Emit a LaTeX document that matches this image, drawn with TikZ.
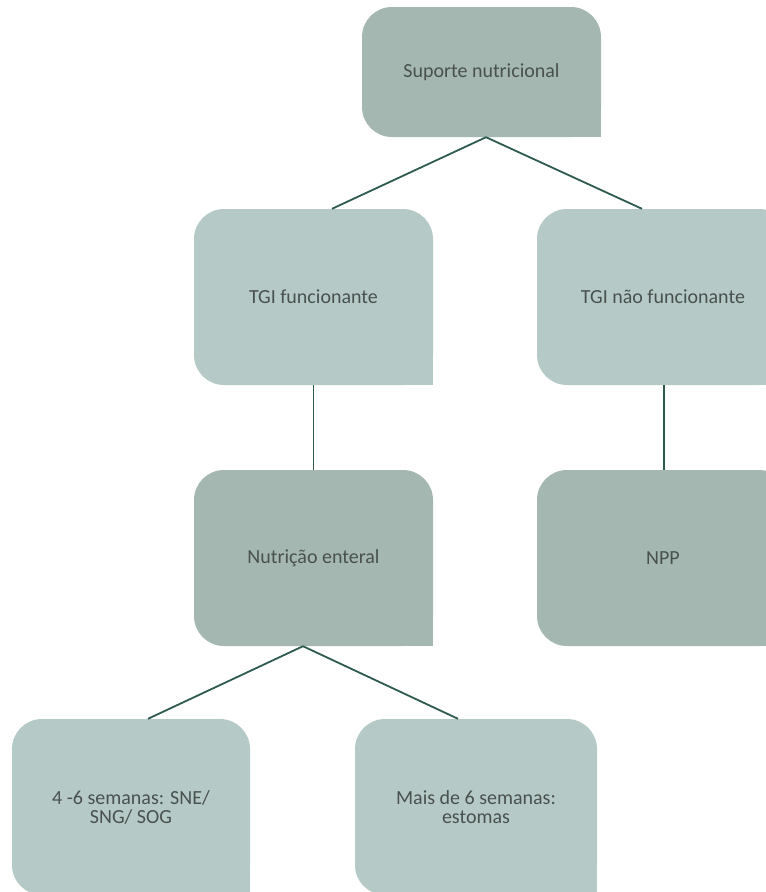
\documentclass[tikz,border=0pt]{standalone}
\usepackage{fontspec}
\setmainfont{Carlito}
\definecolor{darkbox}{HTML}{A5B7B1}
\definecolor{lightbox}{HTML}{B5CAC6}
\definecolor{linec}{HTML}{2E5A50}
\definecolor{txt}{HTML}{48514F}
\tikzset{
  box/.style={rounded corners=30pt, inner sep=0pt, text=txt, align=center,
    font=\fontsize{20}{19}\selectfont, anchor=center},
  darkb/.style={box, fill=darkbox},
  lightb/.style={box, fill=lightbox},
  conn/.style={draw=linec, line width=1.8pt}
}
\newcommand\sqcorner[2]{\fill[#2] (#1.south east) rectangle ++(-31pt,31pt);}
\begin{document}
\begin{tikzpicture}[x=1pt,y=-1pt]
\useasboundingbox (0,0) rectangle (766,892);
\node[darkb, minimum width=239pt, minimum height=130pt] (sup) at (481.5,72) {Suporte nutricional};
\sqcorner{sup}{darkbox}
\node[lightb, minimum width=239pt, minimum height=176pt] (tf) at (313.5,297) {TGI funcionante};
\sqcorner{tf}{lightbox}
\node[lightb, minimum width=252pt, minimum height=176pt] (tn) at (663,297) {TGI não funcionante};
\sqcorner{tn}{lightbox}
\node[darkb, minimum width=239pt, minimum height=176pt] (ne) at (313.5,558) {Nutrição enteral};
\sqcorner{ne}{darkbox}
\node[darkb, minimum width=252pt, minimum height=176pt] (npp) at (663,558) {NPP};
\sqcorner{npp}{darkbox}
\node[lightb, minimum width=238pt, minimum height=176pt] (sne) at (131,807) {4 -6 semanas: SNE/\\SNG/ SOG};
\sqcorner{sne}{lightbox}
\node[lightb, minimum width=242pt, minimum height=176pt] (est) at (476,807) {Mais de 6 semanas:\\estomas};
\sqcorner{est}{lightbox}
\draw[conn] ([xshift=4.5pt]sup.south) -- ([xshift=18.5pt]tf.north);
\draw[conn] ([xshift=4.5pt]sup.south) -- ([xshift=-21pt]tn.north);
\draw[conn] (tf.south) -- (ne.north);
\draw[conn] ([xshift=1pt]tn.south) -- ([xshift=1pt]npp.north);
\draw[conn] ([xshift=-10.5pt]ne.south) -- ([xshift=17pt]sne.north);
\draw[conn] ([xshift=-10.5pt]ne.south) -- ([xshift=-18pt]est.north);
\end{tikzpicture}
\end{document}
